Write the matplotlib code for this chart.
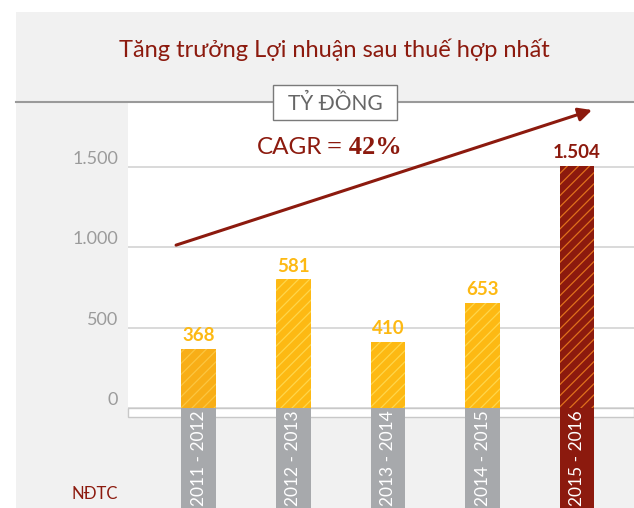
import matplotlib.pyplot as plt
import matplotlib.patches as mpatches
import matplotlib.transforms as mtransforms

plt.rcParams["font.family"] = ["Lato", "DejaVu Sans"]
plt.rcParams["hatch.linewidth"] = 0.9

# data
periods = ["2011 - 2012", "2012 - 2013", "2013 - 2014", "2014 - 2015", "2015 - 2016"]
profit = [368, 581, 410, 653, 1504]
# bar heights as drawn in the source chart (the 2012-2013 bar is drawn taller than its label)
drawn_height = [368, 800, 410, 653, 1504]
value_labels = ["368", "581", "410", "653", "1.504"]
yticks = [0, 500, 1000, 1500]
ytick_labels = ["0", "500", "1.000", "1.500"]

DARK_RED = "#8c1a0e"
YELLOW = "#fdb913"
GREY_BG = "#f1f1f1"

W, H = 634, 508
fig = plt.figure(figsize=(W / 100, H / 100), dpi=100)
fig.patch.set_facecolor("white")


def fx(px):
    return px / W


def fy(py):
    return 1 - py / H


# grey panel
fig.patches.append(mpatches.Rectangle((fx(16), 0), 1 - fx(16), fy(12), transform=fig.transFigure,
                                      facecolor=GREY_BG, edgecolor="none", zorder=-5))
# white strip under plot
fig.patches.append(mpatches.Rectangle((fx(128), fy(417)), 1 - fx(128), fy(408) - fy(417),
                                      transform=fig.transFigure, facecolor="white",
                                      edgecolor="#c8c8c8", lw=1, zorder=-4))

ax = fig.add_axes([fx(128), fy(408), 1 - fx(128), fy(103) - fy(408)])
ax.set_zorder(0)
ax.set_facecolor("white")
for s in ax.spines.values():
    s.set_visible(False)

x = list(range(len(profit)))
ax.set_xlim(-0.751, 4.603)
ax.set_ylim(0, 1898)

for t in yticks:
    ax.axhline(t, color="#cfcfcf", lw=1.1, zorder=1)

face = ["#f8ae17", YELLOW, YELLOW, YELLOW, DARK_RED]
stripe = ["#fcc640", "#ffd64a", "#ffd64a", "#ffd64a", "#e0701c"]
bars = ax.bar(x, drawn_height, width=0.37, color=face, edgecolor=stripe, hatch="///", lw=0,
              zorder=2)

txt_colors = [YELLOW, YELLOW, YELLOW, YELLOW, DARK_RED]
for b, lab, c in zip(bars, value_labels, txt_colors):
    ax.annotate(lab, (b.get_x() + b.get_width() / 2, b.get_height()), xytext=(0, 3.5),
                textcoords="offset points", ha="center", va="bottom",
                fontsize=13.5, fontweight="bold", color=c)

# category strips below the axis
trans = mtransforms.blended_transform_factory(ax.transData, fig.transFigure)
strip_colors = ["#a7a9ac"] * 4 + [DARK_RED]
for i, (p, c) in enumerate(zip(periods, strip_colors)):
    fig.patches.append(mpatches.Rectangle((i - 0.185, 0), 0.37, fy(408), transform=trans,
                                          facecolor=c, edgecolor="none", zorder=3))
    fig.text(i, fy(458), p, transform=trans, rotation=90, ha="center", va="center",
             color="white", fontsize=12.5, zorder=4)

ax.set_xticks([])
ax.set_yticks(yticks)
ax.set_yticklabels(ytick_labels)
ax.tick_params(axis="y", length=0, pad=7, labelsize=13, labelcolor="#9b9b9b")
for lab in ax.get_yticklabels():
    lab.set_verticalalignment("bottom")

# growth arrow
ax.annotate("", xy=(0.917, 0.977), xytext=(0.095, 0.534), xycoords="axes fraction",
            arrowprops=dict(arrowstyle="-|>", color=DARK_RED, lw=2.2, mutation_scale=20,
                            shrinkA=0, shrinkB=0), zorder=5)

fig.text(fx(257), fy(148), "CAGR", ha="left", va="center", color=DARK_RED, fontsize=17.5)
fig.text(fx(327), fy(148), "= 42%", ha="left", va="center", color=DARK_RED, fontsize=19,
         fontweight="bold", family=["Liberation Serif", "DejaVu Serif"])

# header
fig.text(fx(334), fy(50), "Tăng trưởng Lợi nhuận sau thuế hợp nhất", ha="center", va="center",
         color=DARK_RED, fontsize=17)
fig.add_artist(plt.Line2D([fx(16), 1], [fy(102), fy(102)], color="#9a9a9a", lw=1.5))
fig.patches.append(mpatches.Rectangle((fx(273), fy(120)), fx(397) - fx(273), fy(85) - fy(120),
                                      transform=fig.transFigure, facecolor="white",
                                      edgecolor="#7a7a7a", lw=1, zorder=6))
fig.text(fx(335), fy(103), "TỶ ĐỒNG", ha="center", va="center", color="#666666", fontsize=15,
         zorder=7)

fig.text(fx(118), fy(494), "NĐTC", ha="right", va="center", color=DARK_RED, fontsize=12)

fig.savefig("out.png", dpi=100)
